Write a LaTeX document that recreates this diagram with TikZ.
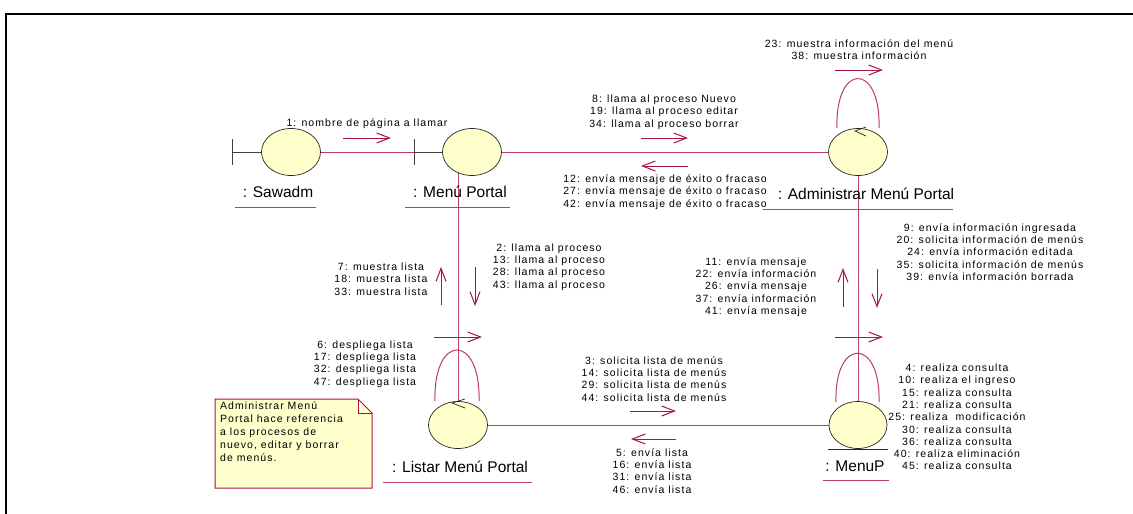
\documentclass[tikz,border=0pt]{standalone}
\usepackage{fontspec}
\setmainfont{Liberation Sans}
\newfontfamily\msgfont{Liberation Sans}[LetterSpace=10]
\usetikzlibrary{arrows.meta,shapes.geometric,backgrounds}
\definecolor{linkcol}{RGB}{185,60,100}
\definecolor{arrcol}{RGB}{165,20,70}
\definecolor{objfill}{RGB}{255,255,204}
\definecolor{notefill}{RGB}{255,255,204}
\tikzset{
  obj/.style={ellipse, draw=black!85, line width=0.7pt, fill=objfill,
    minimum width=59pt, minimum height=47pt, inner sep=0pt},
  link/.style={draw=linkcol, line width=1pt},
  msg/.style={draw=arrcol, line width=1pt,
    -{Straight Barb[length=13pt,width=10pt,line width=1pt]}},
  msgtext/.style={font=\msgfont\fontsize{10.5}{12.3}\selectfont, align=center,
    inner sep=0pt, text=black},
  objlabel/.style={font=\fontsize{15.5}{17}\selectfont, inner sep=0pt},
  uline/.style={draw=linkcol, line width=1pt},
  bound/.style={draw=black!75, line width=0.9pt},
  tick/.style={draw=black!85, line width=0.7pt},
}
\begin{document}
\begin{tikzpicture}[x=1pt,y=-1pt]
\useasboundingbox (0,0) rectangle (1133,514);
% frame
\draw[line width=2pt] (6,514) -- (6,14) -- (1133,14);

% objects
\node[obj] (saw) at (291,152) {};
\node[obj] (mp)  at (472,152) {};
\node[obj] (adm) at (858,152) {};
\node[obj] (lst) at (458,425) {};
\node[obj, minimum width=58pt] (mnp) at (858,425) {};

% boundary stereotypes
\coordinate (sawbar) at (232,152);
\coordinate (mpbar)  at (414,152);
\draw[bound] (232,139) -- (232,165);
\draw[bound] (414,139) -- (414,165);
\draw[bound] (sawbar) -- (saw.west);
\draw[bound] (mpbar) -- (mp.west);
% entity stereotype
\draw[black!85, line width=0.8pt] (828,449) -- (888,449);

% object names
\node[objlabel] (lsaw) at (278,192) {: Sawadm};
\node[objlabel] (lmp)  at (460,192) {: Menú Portal};
\node[objlabel] (ladm) at (866,194) {: Administrar Menú Portal};
\node[objlabel] (llst) at (460,467) {: Listar Menú Portal};
\node[objlabel] (lmnp) at (855,466) {: MenuP};
\draw[uline] (235,207) -- (316,207);
\draw[uline] (405,207) -- (510,207);
\draw[uline] (763,209) -- (953,209);
\draw[uline] (383,482) -- (532,482);
\draw[uline] (823,480) -- (889,480);

% links between objects
\begin{pgfonlayer}{background}
\draw[link] (saw.east) -- (mpbar);
\draw[link] (mp.center) -- (adm.center);
\draw[link] (mp.center -| lst.center) -- (lst.center);
\draw[link] (adm.center) -- (mnp.center);
\draw[link] (lst.center) -- (mnp.center);
\end{pgfonlayer}

% self links
\coordinate (admL) at (837,128);
\coordinate (admR) at (879,128);
\draw[link] (admL) .. controls (835,62) and (881,62) .. (admR);
\draw[tick] (866,127) -- (855,131) -- (866,136);
\coordinate (lstL) at (435,401);
\coordinate (lstR) at (479,401);
\draw[link] (lstL) .. controls (433,333) and (481,333) .. (lstR);
\draw[tick] (465,399) -- (452,403) -- (465,408);
\coordinate (mnpL) at (836,402);
\coordinate (mnpR) at (879,402);
\draw[link] (mnpL) .. controls (834,337) and (881,337) .. (mnpR);

% message arrows
\coordinate (m1a) at (343,138);  \coordinate (m1b) at (391,138);
\draw[msg] (m1a) -- (m1b);
\coordinate (m8a) at (641,138);  \coordinate (m8b) at (688,138);
\draw[msg] (m8a) -- (m8b);
\coordinate (m12a) at (688,166); \coordinate (m12b) at (641,166);
\draw[msg] (m12a) -- (m12b);
\coordinate (m23a) at (835,70);  \coordinate (m23b) at (883,70);
\draw[msg] (m23a) -- (m23b);
\coordinate (m7a) at (441,305);  \coordinate (m7b) at (441,267);
\draw[msg] (m7a) -- (m7b);
\coordinate (m2a) at (475,267);  \coordinate (m2b) at (475,306);
\draw[msg] (m2a) -- (m2b);
\coordinate (m6a) at (434,337);  \coordinate (m6b) at (482,337);
\draw[msg] (m6a) -- (m6b);
\coordinate (m11a) at (843,307); \coordinate (m11b) at (843,268);
\draw[msg] (m11a) -- (m11b);
\coordinate (m9a) at (877,269);  \coordinate (m9b) at (877,308);
\draw[msg] (m9a) -- (m9b);
\coordinate (m4a) at (835,337);  \coordinate (m4b) at (883,337);
\draw[msg] (m4a) -- (m4b);
\coordinate (m3a) at (630,411);  \coordinate (m3b) at (676,411);
\draw[msg] (m3a) -- (m3b);
\coordinate (m5a) at (676,439);  \coordinate (m5b) at (631,439);
\draw[msg] (m5a) -- (m5b);

% message texts
\node[msgtext] (t1) at (367,124) {1: nombre de página a llamar};
\node[msgtext] (t8) at (664,112) {8: llama al proceso Nuevo\\19: llama al proceso editar\\34: llama al proceso borrar};
\node[msgtext] (t12) at (665,192) {12: envía mensaje de éxito o fracaso\\27: envía mensaje de éxito o fracaso\\42: envía mensaje de éxito o fracaso};
\node[msgtext] (t23) at (859,50) {23: muestra información del menú\\38: muestra información};
\node[msgtext] (t7) at (381,279) {7: muestra lista\\18: muestra lista\\33: muestra lista};
\node[msgtext] (t2) at (549,267) {2: llama al proceso\\13: llama al proceso\\28: llama al proceso\\43: llama al proceso};
\node[msgtext] (t6) at (365,364) {6: despliega lista\\17: despliega lista\\32: despliega lista\\47: despliega lista};
\node[msgtext] (t11) at (756,287) {11: envía mensaje\\22: envía información\\26: envía mensaje\\37: envía información\\41: envía mensaje};
\node[msgtext] (t9) at (990,252) {9: envía información ingresada\\20: solicita información de menús\\24: envía información editada\\35: solicita información de menús\\39: envía información borrada};
\node[msgtext] (t3) at (654,379) {3: solicita lista de menús\\14: solicita lista de menús\\29: solicita lista de menús\\44: solicita lista de menús};
\node[msgtext] (t5) at (652,471) {5: envía lista\\16: envía lista\\31: envía lista\\46: envía lista};
\node[msgtext] (t4) at (957,417) {4: realiza consulta\\10: realiza el ingreso\\15: realiza consulta\\21: realiza consulta\\25: realiza\ \ modificación\\30: realiza consulta\\36: realiza consulta\\40: realiza eliminación\\45: realiza consulta};

% note
\draw[draw=arrcol, line width=1pt, fill=notefill]
  (215,399) -- (358,399) -- (372,413) -- (372,488) -- (215,488) -- cycle;
\draw[draw=arrcol, line width=0.8pt] (358,399) -- (358,413) -- (372,413);
\node[msgtext, align=left, anchor=north west, font=\msgfont\fontsize{10.5}{13}\selectfont] (note) at (220,402)
  {Administrar Menú\\Portal hace referencia\\a los procesos de\\nuevo, editar y borrar\\de menús.};
\end{tikzpicture}
\end{document}
